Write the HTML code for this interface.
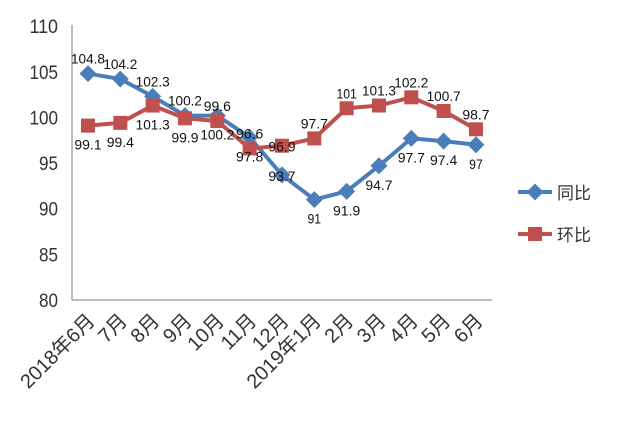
<!DOCTYPE html>
<html><head><meta charset="utf-8"><style>
body{margin:0;background:#fff}
svg text{font-family:"Liberation Sans","Noto Sans CJK SC",sans-serif}
</style></head><body>
<svg id="chart" width="644" height="421" viewBox="0 0 644 421" xmlns="http://www.w3.org/2000/svg">
<g id="axes"></g><g id="series"></g><g id="labels"></g>
<g>
 <g>
  <line x1="518" y1="192" x2="552" y2="192" stroke="#4a7ebb" stroke-width="4"/>
  <rect x="529" y="186" width="12" height="12" fill="#4a7ebb" transform="rotate(45 535 192)"/>
  <text x="557" y="199" font-size="17" fill="#333">同比</text>
 </g>
 <g>
  <line x1="518" y1="234" x2="552" y2="234" stroke="#c0504d" stroke-width="4"/>
  <rect x="528" y="227" width="14" height="14" fill="#c0504d"/>
  <text x="557" y="241" font-size="17" fill="#333">环比</text>
 </g>
</g>
</svg>
<script>
const categories=["2018年6月","7月","8月","9月","10月","11月","12月","2019年1月","2月","3月","4月","5月","6月"];
const yoy=[104.8,104.2,102.3,100.2,100.2,97.8,93.7,91,91.9,94.7,97.7,97.4,97];
const mom=[99.1,99.4,101.3,99.9,99.6,96.6,96.9,97.7,101,101.3,102.2,100.7,98.7];
const yTicks=[80,85,90,95,100,105,110];
const yoyLabelSide=[-1,-1,-1,-1,1,1,0,1,1,1,1,1,1];
const momLabelSide=[1,1,1,1,-1,-1,0,-1,-1,-1,-1,-1,-1];
const NS="http://www.w3.org/2000/svg";
const x=i=>88+i*32.33;
const y=v=>300-(v-80)*9.13;
function mk(tag,attrs,parent,txt){const e=document.createElementNS(NS,tag);for(const k in attrs)e.setAttribute(k,attrs[k]);if(txt!==undefined)e.textContent=txt;parent.appendChild(e);return e;}
const axes=document.getElementById('axes'),ser=document.getElementById('series'),lab=document.getElementById('labels');
let a=mk('line',{x1:72,y1:25,x2:72,y2:300,stroke:'#bbb','stroke-width':2},axes);

a=mk('line',{x1:72,y1:300,x2:492,y2:300,stroke:'#bbb','stroke-width':2},axes);

yTicks.forEach(t=>{const e=mk('text',{x:58,y:y(t)+7,'text-anchor':'end','font-size':19,fill:'#333',textLength:String(t).length*9.5,lengthAdjust:'spacingAndGlyphs'},axes,t);

});
categories.forEach((c,i)=>{const e=mk('text',{x:0,y:0,'text-anchor':'end','font-size':20,fill:'#333',transform:`translate(${x(i)+8},${322}) rotate(-45)`},axes,c);

});
function series(vals,color,name,marker,sides){
 const p=mk('polyline',{points:vals.map((v,i)=>x(i)+','+y(v)).join(' '),fill:'none',stroke:color,'stroke-width':4,'stroke-linejoin':'round'},ser);
 
 
 vals.forEach((v,i)=>{let m;
  if(marker==='d')m=mk('rect',{x:x(i)-6,y:y(v)-6,width:12,height:12,fill:color,transform:`rotate(45 ${x(i)} ${y(v)})`},ser);
  else m=mk('rect',{x:x(i)-7,y:y(v)-7,width:14,height:14,fill:color},ser);
  
  
  const s=sides[i];const ty=s<0?y(v)-10:(s>0?y(v)+24:y(v)+6);
  const t=mk('text',{x:x(i),y:ty,'text-anchor':'middle','font-size':14,fill:'#111',textLength:String(v).length*6.8,lengthAdjust:'spacingAndGlyphs'},lab,v);
  
  });
}
series(yoy,'#4a7ebb','yoy','d',yoyLabelSide);
series(mom,'#c0504d','mom','s',momLabelSide);
</script>
</body></html>
